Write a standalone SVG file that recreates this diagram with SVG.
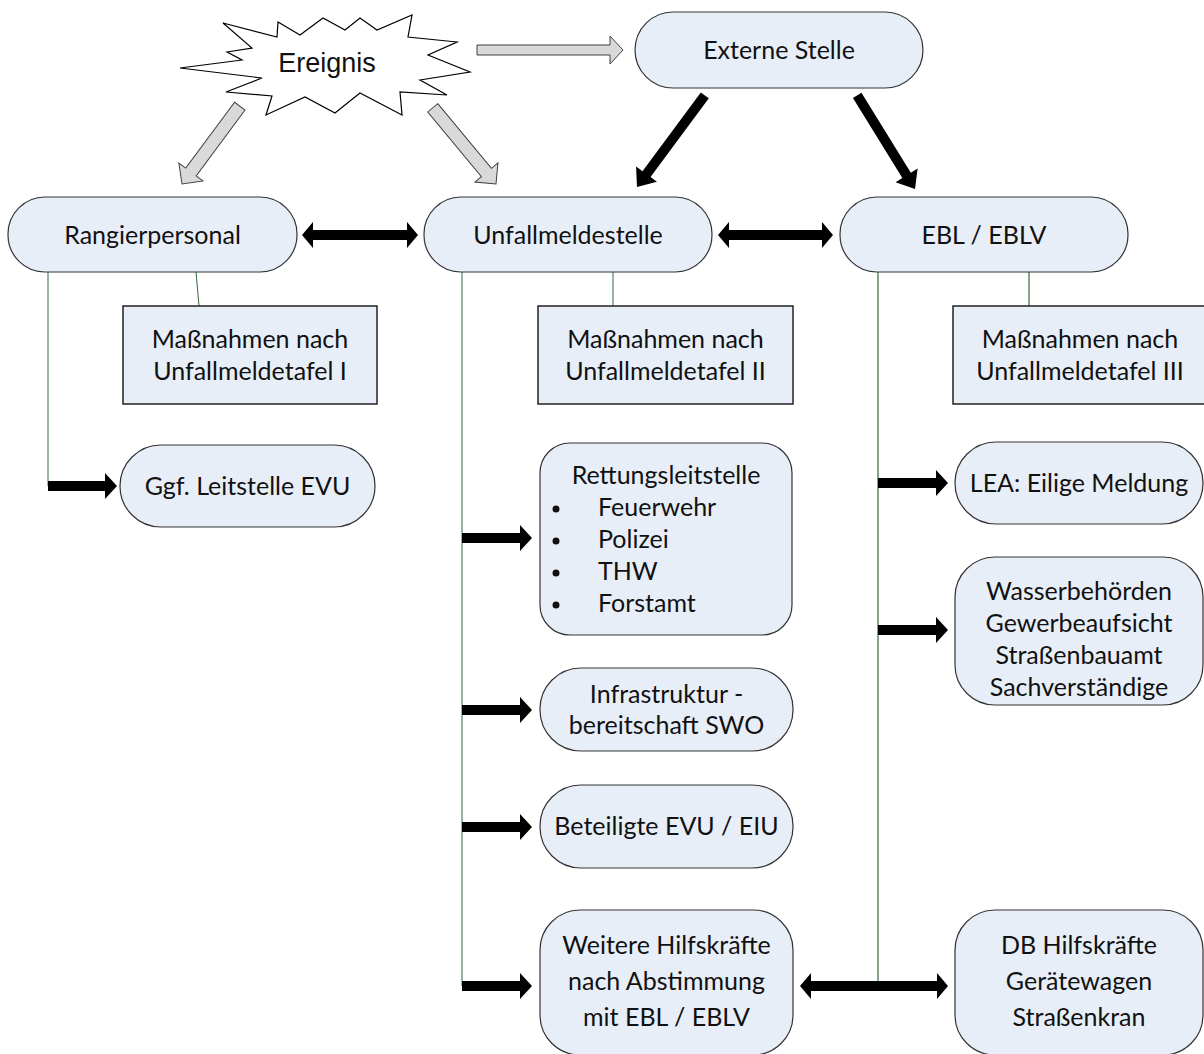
<svg xmlns="http://www.w3.org/2000/svg" width="1204" height="1054" viewBox="0 0 1204 1054">
<style>
.node{fill:#e8eef8;stroke:#333;stroke-width:1.2}
.box{fill:#e8eef8;stroke:#222;stroke-width:1.5}
.t{font-family:Lato,"Liberation Sans",sans-serif;font-size:25px;fill:#111;text-anchor:middle}
.tl{font-family:Lato,"Liberation Sans",sans-serif;font-size:25px;fill:#111}
.g1{stroke:#2f6b3f;stroke-width:1;fill:none}
.g2{stroke:#86a38a;stroke-width:2;fill:none}
.blk{fill:#000}
.gry{fill:#d9d9d9;stroke:#404040;stroke-width:1}
</style>
<rect width="1204" height="1054" fill="#fff"/>
<g id="connectors">
<path class="g1" d="M48,272 V486"/>
<path class="g1" d="M196,272 L199,306"/>
<path class="g1" d="M462,272 V986"/>
<path class="g1" d="M613,272 V306"/>
<path class="g2" d="M878,272 V986"/>
<path class="g2" d="M1029,272 V306"/>
<path class="gry" d="M477,45 H610 V36 L623,50 L610,64 V55 H477 Z"/>
<path class="gry" transform="translate(182,184) rotate(126.6)" d="M-97,-6.5 H-15 V-15 L0,0 L-15,15 V6.5 H-97 Z"/>
<path class="gry" transform="translate(496,184) rotate(50.3)" d="M-99,-6.5 H-15 V-15 L0,0 L-15,15 V6.5 H-99 Z"/>
<path class="blk" transform="translate(637,187) rotate(126.5)" d="M-114,-5 H-16 V-13 L0,0 L-16,13 V5 H-114 Z"/>
<path class="blk" transform="translate(915,189) rotate(58.3)" d="M-110,-5 H-16 V-13 L0,0 L-16,13 V5 H-110 Z"/>
<path class="blk" d="M302,235 L313,222 V230 H407 V222 L418,235 L407,248 V240 H313 V248 Z"/>
<path class="blk" d="M718,235 L729,222 V230 H822 V222 L833,235 L822,248 V240 H729 V248 Z"/>
<path class="blk" d="M800,986 L811,973 V981 H937 V973 L948,986 L937,999 V991 H811 V999 Z"/>
<path class="blk" d="M48,481 H105 V473 L117,486 L105,499 V491 H48 Z"/>
<path class="blk" d="M462,533 H520 V525 L532,538 L520,551 V543 H462 Z"/>
<path class="blk" d="M462,705 H520 V697 L532,710 L520,723 V715 H462 Z"/>
<path class="blk" d="M462,822 H520 V814 L532,827 L520,840 V832 H462 Z"/>
<path class="blk" d="M462,981 H520 V973 L532,986 L520,999 V991 H462 Z"/>
<path class="blk" d="M878,478 H936 V470 L948,483 L936,496 V488 H878 Z"/>
<path class="blk" d="M878,625 H936 V617 L948,630 L936,643 V635 H878 Z"/>
</g>
<g id="ereignis">
<polygon points="180,68 262,78 226,92 272,96 266,115 305,97 335,113 360,93 402,115 400,92 447,95 420,80 470,72 428,55 457,42 408,37 412,15 377,30 360,18 345,30 323,18 300,35 278,22 277,37 223,23 252,48 227,52 242,60" fill="#fff" stroke="#000" stroke-width="1.2"/>
<text x="327" y="72" style="font-family:'Liberation Sans',Arial,sans-serif;font-size:27px;fill:#111;text-anchor:middle">Ereignis</text>
</g>
<g id="externe"><rect class="node" x="635" y="12" width="288" height="76" rx="38"/><text class="t" x="779" y="59">Externe Stelle</text></g>
<g id="rangier"><rect class="node" x="8" y="197" width="289" height="75" rx="37"/><text class="t" x="152.5" y="244">Rangierpersonal</text></g>
<g id="unfall"><rect class="node" x="424" y="197" width="288" height="75" rx="37"/><text class="t" x="568" y="244">Unfallmeldestelle</text></g>
<g id="ebl"><rect class="node" x="840" y="197" width="288" height="75" rx="37"/><text class="t" x="984" y="244">EBL / EBLV</text></g>
<g id="mass1"><rect class="box" x="123" y="306" width="254" height="98"/><text class="t" x="250" y="348">Maßnahmen nach</text><text class="t" x="250" y="380">Unfallmeldetafel I</text></g>
<g id="mass2"><rect class="box" x="538" y="306" width="255" height="98"/><text class="t" x="665.5" y="348">Maßnahmen nach</text><text class="t" x="665.5" y="380">Unfallmeldetafel II</text></g>
<g id="mass3"><rect class="box" x="953" y="306" width="254" height="98"/><text class="t" x="1080" y="348">Maßnahmen nach</text><text class="t" x="1080" y="380">Unfallmeldetafel III</text></g>
<g id="ggf"><rect class="node" x="120" y="445" width="255" height="82" rx="41"/><text class="t" x="247.5" y="495">Ggf. Leitstelle EVU</text></g>
<g id="rettung"><rect class="node" x="540" y="443" width="252" height="192" rx="30"/>
<text class="t" x="666" y="484">Rettungsleitstelle</text>
<circle cx="556" cy="509" r="3.5" fill="#111"/><text class="tl" x="598" y="516">Feuerwehr</text>
<circle cx="556" cy="541" r="3.5" fill="#111"/><text class="tl" x="598" y="548">Polizei</text>
<circle cx="556" cy="573" r="3.5" fill="#111"/><text class="tl" x="598" y="580">THW</text>
<circle cx="556" cy="605" r="3.5" fill="#111"/><text class="tl" x="598" y="612">Forstamt</text>
</g>
<g id="infra"><rect class="node" x="540" y="668" width="253" height="83" rx="41"/><text class="t" x="666.5" y="703">Infrastruktur -</text><text class="t" x="666.5" y="734">bereitschaft SWO</text></g>
<g id="beteiligt"><rect class="node" x="540" y="785" width="253" height="83" rx="41"/><text class="t" x="666.5" y="835">Beteiligte EVU / EIU</text></g>
<g id="weitere"><rect class="node" x="540" y="910" width="253" height="145" rx="40"/><text class="t" x="666.5" y="954">Weitere Hilfskräfte</text><text class="t" x="666.5" y="990">nach Abstimmung</text><text class="t" x="666.5" y="1026">mit EBL / EBLV</text></g>
<g id="lea"><rect class="node" x="955" y="442" width="248" height="82" rx="41"/><text class="t" x="1079" y="492">LEA: Eilige Meldung</text></g>
<g id="wasser"><rect class="node" x="955" y="557" width="248" height="148" rx="40"/><text class="t" x="1079" y="600">Wasserbehörden</text><text class="t" x="1079" y="632">Gewerbeaufsicht</text><text class="t" x="1079" y="664">Straßenbauamt</text><text class="t" x="1079" y="696">Sachverständige</text></g>
<g id="db"><rect class="node" x="955" y="910" width="248" height="145" rx="40"/><text class="t" x="1079" y="954">DB Hilfskräfte</text><text class="t" x="1079" y="990">Gerätewagen</text><text class="t" x="1079" y="1026">Straßenkran</text></g>
</svg>
